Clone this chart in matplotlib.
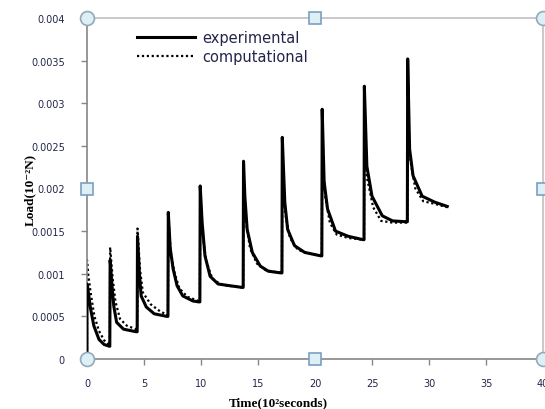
import matplotlib.pyplot as plt
from matplotlib.ticker import FixedLocator, FixedFormatter

# --- data (time in 10^2 s, load in 10^-2 N) ---
exp_time = [0, 0, 0.05, 0.3, 0.6, 1.05, 1.5, 1.95,
            2.0, 2.03, 2.2, 2.35, 2.6, 3.2, 4.3,
            4.4, 4.43, 4.6, 4.75, 5.2, 5.9, 7.0,
            7.1, 7.13, 7.3, 7.55, 7.9, 8.4, 9.3, 9.8,
            9.9, 9.93, 10.1, 10.35, 10.8, 11.5, 12.5, 13.6,
            13.7, 13.73, 13.85, 14.05, 14.5, 15.2, 15.9, 17.0,
            17.1, 17.13, 17.35, 17.6, 18.2, 19.1, 20.5,
            20.6, 20.63, 20.8, 21.1, 21.8, 22.9, 24.2,
            24.3, 24.33, 24.55, 25.0, 25.9, 26.8, 28.0,
            28.1, 28.13, 28.3, 28.6, 29.4, 30.5, 31.6]
exp_load = [0, 0.00088, 0.00085, 0.00060, 0.00039, 0.00023, 0.00017, 0.00015,
            0.00015, 0.00116, 0.00085, 0.00062, 0.00043, 0.00035, 0.00032,
            0.00032, 0.00144, 0.00100, 0.00074, 0.00061, 0.00053, 0.00050,
            0.00050, 0.00172, 0.00130, 0.00106, 0.00086, 0.00074, 0.00068, 0.00067,
            0.00067, 0.00203, 0.00160, 0.00121, 0.00097, 0.00088, 0.00086, 0.00084,
            0.00084, 0.00232, 0.00190, 0.00152, 0.00125, 0.00109, 0.00103, 0.00101,
            0.00101, 0.00260, 0.00184, 0.00152, 0.00133, 0.00125, 0.00121,
            0.00121, 0.00293, 0.00208, 0.00176, 0.00150, 0.00144, 0.00140,
            0.00140, 0.00320, 0.00226, 0.00191, 0.00168, 0.00162, 0.00161,
            0.00161, 0.00352, 0.00246, 0.00215, 0.00191, 0.00184, 0.00179]

comp_time = [0, 0, 0.1, 0.35, 0.65, 1.05, 1.5, 1.95,
             2.0, 2.03, 2.25, 2.5, 2.9, 3.5, 4.3,
             4.4, 4.43, 4.65, 4.9, 5.6, 6.4, 7.0,
             7.1, 7.13, 7.35, 7.7, 8.1, 8.8, 9.8,
             9.9, 9.93, 10.15, 10.45, 11.0, 11.8, 13.6,
             13.7, 13.73, 13.95, 14.3, 14.9, 15.7, 17.0,
             17.1, 17.13, 17.4, 17.8, 18.5, 19.4, 20.5,
             20.6, 20.63, 20.9, 21.3, 21.9, 22.9, 24.2,
             24.3, 24.33, 24.6, 25.1, 25.8, 26.8, 28.0,
             28.1, 28.13, 28.4, 28.8, 29.5, 30.5, 31.6]
comp_load = [0, 0.00116, 0.00100, 0.00075, 0.00050, 0.00033, 0.00022, 0.00017,
             0.00017, 0.00131, 0.00095, 0.00067, 0.00047, 0.00039, 0.00035,
             0.00035, 0.00153, 0.00105, 0.00078, 0.00064, 0.00056, 0.00052,
             0.00052, 0.00168, 0.00125, 0.00100, 0.00083, 0.00073, 0.00068,
             0.00068, 0.00190, 0.00145, 0.00115, 0.00094, 0.00087, 0.00084,
             0.00084, 0.00210, 0.00160, 0.00130, 0.00112, 0.00104, 0.00101,
             0.00101, 0.00230, 0.00170, 0.00142, 0.00128, 0.00124, 0.00121,
             0.00121, 0.00240, 0.00190, 0.00160, 0.00146, 0.00142, 0.00140,
             0.00140, 0.00250, 0.00210, 0.00178, 0.00162, 0.00160, 0.00160,
             0.00160, 0.00262, 0.00230, 0.00200, 0.00185, 0.00182, 0.00178]

x_ticks = [0, 5, 10, 15, 20, 25, 30, 35, 40]
y_ticks = [0, 0.0005, 0.001, 0.0015, 0.002, 0.0025, 0.003, 0.0035, 0.004]
y_tick_labels = ['0', '0.0005', '0.001', '0.0015', '0.002', '0.0025', '0.003', '0.0035', '0.004']

TEXT_COLOR = '#22254a'

fig = plt.figure(figsize=(5.45, 4.10), dpi=100)
ax = fig.add_axes([87 / 545, 1 - 360 / 410, 456 / 545, 341 / 410])

ax.plot(exp_time, exp_load, color='black', lw=2.2, label='experimental', zorder=3)
ax.plot(comp_time, comp_load, color='black', lw=1.6, linestyle=(0, (1, 1.2)),
        label='computational', zorder=2)

ax.set_xlim(0, 40)
ax.set_ylim(0, 0.004)
ax.xaxis.set_major_locator(FixedLocator(x_ticks))
ax.yaxis.set_major_locator(FixedLocator(y_ticks))
ax.yaxis.set_major_formatter(FixedFormatter(y_tick_labels))
ax.tick_params(axis='both', direction='out', length=4, width=1, color='#868686',
               labelsize=7, labelcolor=TEXT_COLOR)
ax.tick_params(axis='x', pad=10)
ax.tick_params(axis='y', pad=12)

for side in ['left', 'bottom']:
    ax.spines[side].set_color('#868686')
    ax.spines[side].set_linewidth(1.2)
for side in ['top', 'right']:
    ax.spines[side].set_color('#c0c0c0')
    ax.spines[side].set_linewidth(1.2)

# selection handles on the chart frame
circ = dict(marker='o', markersize=10, markerfacecolor='#dcf0f6', markeredgecolor='#93aabb',
            markeredgewidth=1.2, linestyle='none', clip_on=False, transform=ax.transAxes, zorder=5)
sq = dict(marker='s', markersize=8, markerfacecolor='#dcf0f6', markeredgecolor='#7c9fc0',
          markeredgewidth=1.2, linestyle='none', clip_on=False, transform=ax.transAxes, zorder=5)
ax.plot([0, 1, 0, 1], [0, 0, 1, 1], **circ)
ax.plot([0.5, 0, 1, 0.5], [0, 0.5, 0.5, 1], **sq)

ax.legend(loc='upper left', bbox_to_anchor=(44 / 456, 1 - 6 / 341), frameon=False,
          fontsize=10.5, handlelength=4.0, handletextpad=0.5, labelspacing=0.3,
          labelcolor=TEXT_COLOR, borderaxespad=0)

fig.text(278 / 545, 1 - 403 / 410, 'Time(10²seconds)', ha='center', va='center',
         fontsize=9.5, fontweight='bold', family=['Liberation Serif', 'DejaVu Serif'])
fig.text(30 / 545, 1 - 190 / 410, 'Load(10⁻²N)', ha='center', va='center', rotation=90,
         fontsize=9.5, fontweight='bold', family=['Liberation Serif', 'DejaVu Serif'])

fig.savefig('out.png', dpi=100)
